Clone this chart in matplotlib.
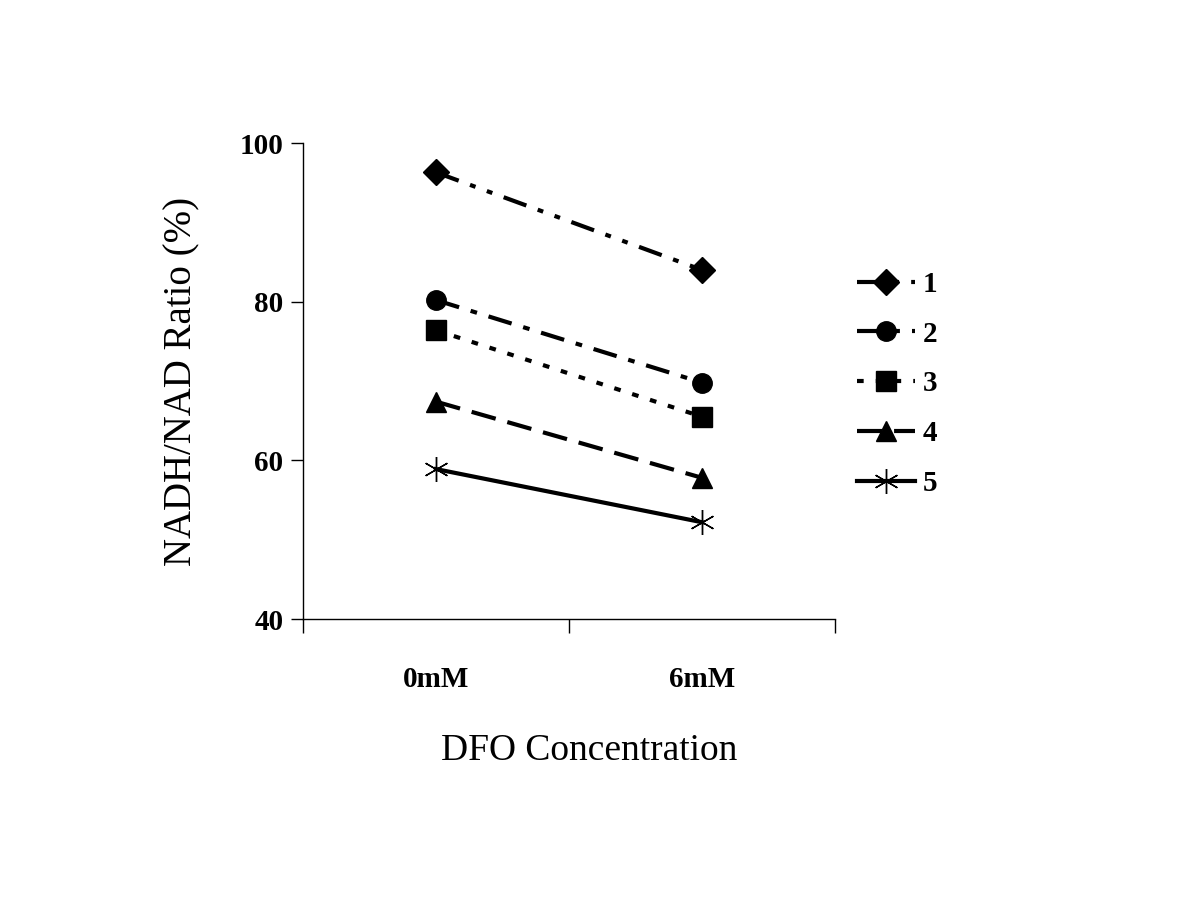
import matplotlib
matplotlib.use("Agg")
import matplotlib.pyplot as plt

categories = ["0mM", "6mM"]
series_labels = ["1", "2", "3", "4", "5"]
s1 = [96.3, 84.0]
s2 = [80.2, 69.8]
s3 = [76.4, 65.5]
s4 = [67.4, 57.8]
s5 = [58.9, 52.2]
yticks = [40, 60, 80, 100]

plt.rcParams['font.family'] = ['Liberation Serif', 'DejaVu Serif']

fig = plt.figure(figsize=(12, 9), dpi=100)
ax = fig.add_axes([0.2525, 0.3122, 0.4433, 0.5289])

lw = 3
styles = [
    dict(marker='D', ms=13, dashes=(5.8, 2.9, 1.4, 2.9, 1.4, 2.9)),
    dict(marker='o', ms=14, dashes=(5.8, 2.9, 1.6, 2.9)),
    dict(marker='s', ms=14, dashes=(1.6, 2.9)),
    dict(marker='^', ms=15, dashes=(6.0, 2.9)),
    dict(marker=(6, 2, 0), ms=18, dashes=None),
]
xs = [0.5, 1.5]
for data, lab, st in zip([s1, s2, s3, s4, s5], series_labels, styles):
    kw = dict(color='black', lw=lw, marker=st['marker'], ms=st['ms'],
              mfc='black', mec='black', mew=1.0, label=lab)
    line, = ax.plot(xs, data, **kw)
    if st['dashes'] is not None:
        line.set_dashes(st['dashes'])

ax.set_xlim(0, 2)
ax.set_ylim(40, 100)
ax.set_yticks(yticks)
ax.set_xticks([0, 1, 2])
ax.set_xticklabels([])
ax.set_xticks(xs, minor=True)
ax.set_xticklabels(categories, minor=True, fontsize=21, fontweight='bold')
ax.tick_params(axis='x', which='minor', length=0, pad=34)
ax.tick_params(axis='x', which='major', length=10, width=1, direction='out')
ax.tick_params(axis='y', length=9, width=1, direction='out', labelsize=21, pad=5)
for t in ax.get_yticklabels():
    t.set_fontweight('bold')
ax.spines['top'].set_visible(False)
ax.spines['right'].set_visible(False)
ax.spines['left'].set_linewidth(1)
ax.spines['bottom'].set_linewidth(1)

ax.set_ylabel("NADH/NAD Ratio (%)", fontsize=28, labelpad=28)
ax.set_xlabel("DFO Concentration", fontsize=27)
ax.xaxis.set_label_coords(0.5376, -0.24)

leg = ax.legend(loc='center left', bbox_to_anchor=(1.041, 0.494), frameon=False,
                prop={'size': 21, 'weight': 'bold'}, handlelength=2.0,
                labelspacing=0.78, handletextpad=0.25, borderpad=0,
                borderaxespad=0)

fig.savefig("out.png", dpi=100, facecolor='white')
